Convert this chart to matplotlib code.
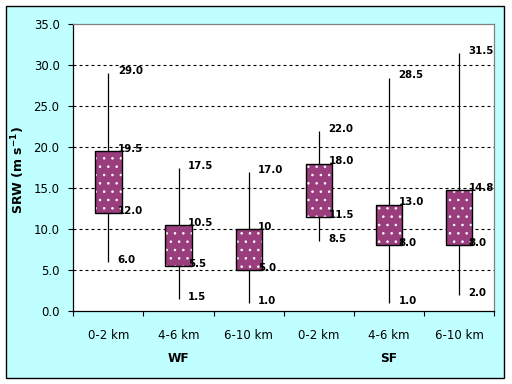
import matplotlib
matplotlib.use("Agg")
import matplotlib.pyplot as plt
from matplotlib.patches import Rectangle

# data
categories = ["0-2 km", "4-6 km", "6-10 km", "0-2 km", "4-6 km", "6-10 km"]
groups = ["WF", "SF"]
group_pos = [1.5, 4.5]
whisker_low = [6.0, 1.5, 1.0, 8.5, 1.0, 2.0]
box_low = [12.0, 5.5, 5.0, 11.5, 8.0, 8.0]
box_high = [19.5, 10.5, 10.0, 18.0, 13.0, 14.8]
whisker_high = [29.0, 17.5, 17.0, 22.0, 28.5, 31.5]
label_whisker_low = ["6.0", "1.5", "1.0", "8.5", "1.0", "2.0"]
label_box_low = ["12.0", "5.5", "5.0", "11.5", "8.0", "8.0"]
label_box_high = ["19.5", "10.5", "10", "18.0", "13.0", "14.8"]
label_whisker_high = ["29.0", "17.5", "17.0", "22.0", "28.5", "31.5"]
yticks = [0, 5, 10, 15, 20, 25, 30, 35]

BG = "#c0ffff"
BOX = "#993d7d"

plt.rcParams["hatch.linewidth"] = 0.6

fig = plt.figure(figsize=(5.12, 3.84), dpi=100)
fig.patch.set_facecolor("white")
fig.patches.append(Rectangle(
    (6.3 / 512, 6.3 / 384), 498 / 512, 371.4 / 384,
    transform=fig.transFigure, facecolor=BG, edgecolor="black",
    linewidth=1.0, zorder=-10,
))

ax = fig.add_axes([73.3 / 512, 73 / 384, 421 / 512, 286.7 / 384])
ax.set_facecolor("white")

x = [i + 0.5 for i in range(len(categories))]

# grid
for y in yticks[1:-1]:
    ax.axhline(y, color="black", linewidth=0.8, linestyle=(0, (2.7, 2.7)), zorder=1)

# whiskers
ax.vlines(x, whisker_low, whisker_high, color="black", linewidth=0.9, zorder=2)

# boxes: dotted fill, then black outline
heights = [h - l for h, l in zip(box_high, box_low)]
ax.bar(x, heights, bottom=box_low, width=0.375, color=BOX,
       edgecolor="white", linewidth=0, hatch="..", zorder=3)
ax.bar(x, heights, bottom=box_low, width=0.375, fill=False,
       edgecolor="black", linewidth=1.0, zorder=4)

# value labels
label_sets = [
    (whisker_low, label_whisker_low),
    (box_low, label_box_low),
    (box_high, label_box_high),
    (whisker_high, label_whisker_high),
]
for values, labels in label_sets:
    for xi, v, s in zip(x, values, labels):
        ax.annotate(s, (xi, v), xytext=(6.8, 1.5), textcoords="offset points",
                    ha="left", va="center", fontsize=7.4, fontweight="bold",
                    zorder=5)

ax.set_xlim(0, len(categories))
ax.set_ylim(0, 35)

ax.set_yticks(yticks)
ax.set_yticklabels([f"{t:.1f}" for t in yticks])
ax.tick_params(axis="y", direction="out", length=3.6, width=0.8, pad=6.3,
               labelsize=8.5)

ax.set_xticks(range(len(categories) + 1))
ax.set_xticklabels([])
ax.set_xticks(x, minor=True)
ax.set_xticklabels(categories, minor=True)
ax.tick_params(axis="x", which="major", direction="out", length=3.6, width=0.8)
ax.tick_params(axis="x", which="minor", length=0, pad=13, labelsize=8.5)

for xi, g in zip(group_pos, groups):
    ax.text(xi, -0.167, g, transform=ax.get_xaxis_transform(), ha="center",
            va="center", fontsize=8.7, fontweight="bold")

for side in ["top", "right"]:
    ax.spines[side].set_color("#808080")
    ax.spines[side].set_linewidth(0.9)
for side in ["left", "bottom"]:
    ax.spines[side].set_color("black")
    ax.spines[side].set_linewidth(0.9)

fig.text(18 / 512, 1 - 170 / 384, r"SRW (m s$^{\mathbf{-1}}$)", rotation=90,
         ha="center", va="center", fontsize=9, fontweight="bold")

fig.savefig("out.png", dpi=100)
